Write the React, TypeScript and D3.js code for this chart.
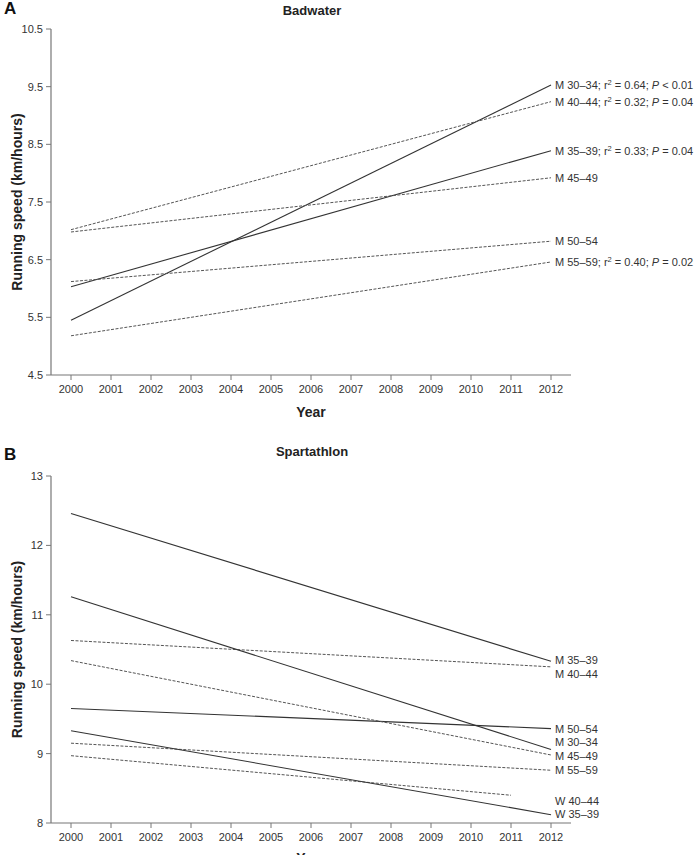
import React from "react";
import * as d3 from "d3";

const years = d3.range(2000, 2013);

// Panel A: Badwater
const badGroups = ["M 30–34", "M 40–44", "M 35–39", "M 45–49", "M 50–54", "M 55–59"];
const badStart = [5.45, 7.02, 6.03, 6.98, 6.12, 5.18];
const badEnd = [9.53, 9.24, 8.39, 7.92, 6.82, 6.46];
const badDashed = [false, true, false, true, true, true];
const badR2 = ["0.64", "0.32", "0.33", "", "", "0.40"];
const badP = ["< 0.01", "= 0.04", "= 0.04", "", "", "= 0.02"];
const badTicks = [4.5, 5.5, 6.5, 7.5, 8.5, 9.5, 10.5];

// Panel B: Spartathlon
const spaGroups = ["M 35–39", "M 40–44", "M 50–54", "M 30–34", "M 45–49", "M 55–59", "W 40–44", "W 35–39"];
const spaStart = [12.46, 10.63, 9.65, 11.26, 10.34, 9.15, 8.97, 9.33];
const spaEnd = [10.33, 10.25, 9.36, 9.06, 8.98, 8.76, 8.4, 8.12];
const spaEndYear = [2012, 2012, 2012, 2012, 2012, 2012, 2011, 2012];
const spaDashed = [false, true, false, false, true, true, true, false];
const spaLabelAt = [10.35, 10.15, 9.36, 9.16, 8.96, 8.76, 8.32, 8.13];
const spaTicks = [8, 9, 10, 11, 12, 13];

const FONT = "Arial, 'Liberation Sans', Helvetica, sans-serif";
const AXIS = "#777";
const TXT = "#333";

function Panel({
  letter, title, top, bottom, domain, ticks, fmt, children, yearY, titleY, letterY,
}: any) {
  const x = d3.scaleLinear().domain([2000, 2012]).range([71, 551]);
  const y = d3.scaleLinear().domain(domain).range([bottom, top]);
  return (
    <g>
      <text x={4} y={letterY} fontFamily={FONT} fontWeight="bold" fontSize={17} fill="#111">{letter}</text>
      <text x={312} y={titleY} textAnchor="middle" fontFamily={FONT} fontWeight="bold" fontSize={13} fill="#222">{title}</text>
      <text transform={`translate(22,${(top + bottom) / 2}) rotate(-90)`} textAnchor="middle" fontFamily={FONT} fontWeight="bold" fontSize={14} fill="#222">Running speed (km/hours)</text>
      <line x1={51} x2={51} y1={top} y2={bottom} stroke={AXIS} strokeWidth={1.2} />
      <line x1={51} x2={571} y1={bottom} y2={bottom} stroke={AXIS} strokeWidth={1.2} />
      {ticks.map((t: number) => (
        <g key={t}>
          <line x1={46} x2={51} y1={y(t)} y2={y(t)} stroke={AXIS} strokeWidth={1} />
          <text x={43} y={y(t) + 4} textAnchor="end" fontFamily={FONT} fontSize={11} fill={TXT}>{fmt(t)}</text>
        </g>
      ))}
      {years.map((yr) => (
        <g key={yr}>
          <line x1={x(yr)} x2={x(yr)} y1={bottom} y2={bottom + 5} stroke={AXIS} strokeWidth={1} />
          <text x={x(yr)} y={bottom + 18} textAnchor="middle" fontFamily={FONT} fontSize={11} fill={TXT}>{yr}</text>
        </g>
      ))}
      <text x={311} y={yearY} textAnchor="middle" fontFamily={FONT} fontWeight="bold" fontSize={14} fill="#222">Year</text>
      {children(x, y)}
    </g>
  );
}

function Line({ x, y, x0, x1, v0, v1, dashed }: any) {
  const gen = d3.line<[number, number]>().x((d) => x(d[0])).y((d) => y(d[1]));
  return (
    <path d={gen([[x0, v0], [x1, v1]]) || ""} fill="none"
      stroke={dashed ? "#555" : "#333"} strokeWidth={dashed ? 1 : 1.1}
      strokeDasharray={dashed ? "3,1.5" : undefined} />
  );
}

export default function App() {
  return (
    <svg width={696} height={855} style={{ position: "absolute", left: 0, top: 0, background: "#fff" }}>
      <rect width={696} height={855} fill="#fff" />
      <Panel letter="A" title="Badwater" top={29} bottom={375} domain={[4.5, 10.5]} ticks={badTicks}
        fmt={(t: number) => t.toFixed(1)} yearY={417} titleY={15} letterY={14}>
        {(x: any, y: any) => (
          <g>
            {badGroups.map((g, i) => (
              <Line key={g} x={x} y={y} x0={2000} x1={2012} v0={badStart[i]} v1={badEnd[i]} dashed={badDashed[i]} />
            ))}
            {badGroups.map((g, i) => (
              <text key={g + "l"} x={x(2012) + 4} y={y(badEnd[i]) + 4} fontFamily={FONT} fontSize={11} fill={TXT}>
                {g}
                {badR2[i] ? (
                  <>
                    <tspan>; r</tspan>
                    <tspan dy={-4} fontSize={7.5}>2</tspan>
                    <tspan dy={4}>{` = ${badR2[i]}; `}</tspan>
                    <tspan fontStyle="italic">P</tspan>
                    <tspan>{` ${badP[i]}`}</tspan>
                  </>
                ) : null}
              </text>
            ))}
          </g>
        )}
      </Panel>
      <Panel letter="B" title="Spartathlon" top={476} bottom={823} domain={[8, 13]} ticks={spaTicks}
        fmt={(t: number) => String(t)} yearY={863} titleY={456} letterY={460}>
        {(x: any, y: any) => (
          <g>
            {spaGroups.map((g, i) => (
              <Line key={g} x={x} y={y} x0={2000} x1={spaEndYear[i]} v0={spaStart[i]} v1={spaEnd[i]} dashed={spaDashed[i]} />
            ))}
            {spaGroups.map((g, i) => (
              <text key={g + "l"} x={x(2012) + 4} y={y(spaLabelAt[i]) + 4} fontFamily={FONT} fontSize={11} fill={TXT}>{g}</text>
            ))}
          </g>
        )}
      </Panel>
    </svg>
  );
}
